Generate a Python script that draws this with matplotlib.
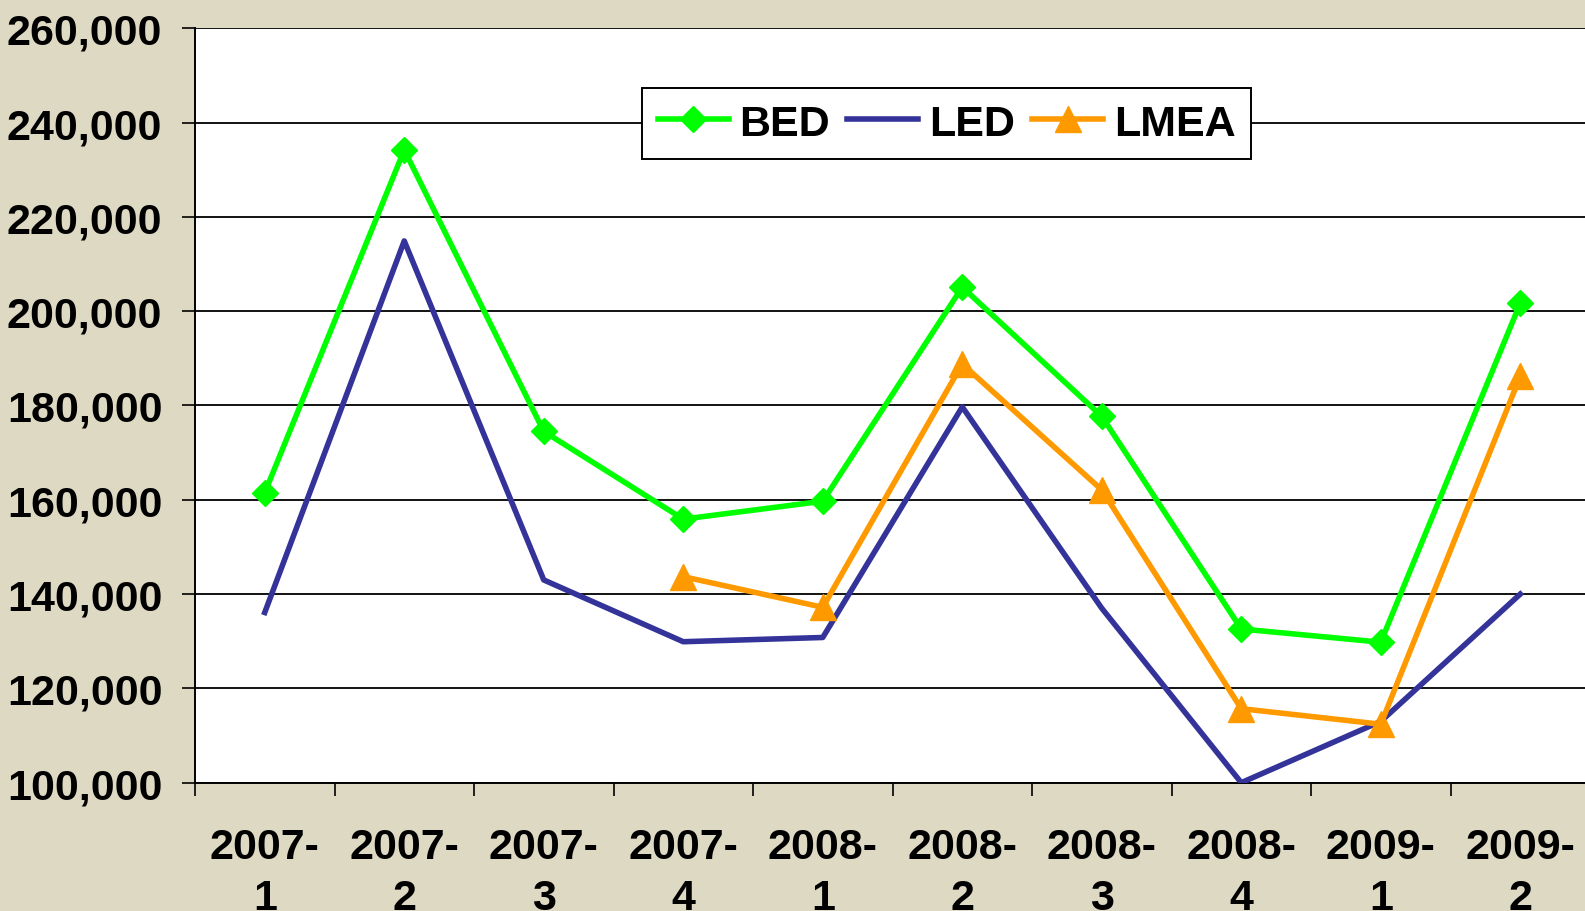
import numpy as np
import matplotlib
matplotlib.use('Agg')
import matplotlib.pyplot as plt

periods = ['2007-\n1', '2007-\n2', '2007-\n3', '2007-\n4', '2008-\n1',
           '2008-\n2', '2008-\n3', '2008-\n4', '2009-\n1', '2009-\n2']
bed = [161500, 234200, 174500, 155900, 159700, 205100, 177700, 132600, 129800, 201700]
led = [136100, 214900, 143000, 129900, 130800, 179700, 137000, 100000, 113000, 140000]
lmea = [np.nan, np.nan, np.nan, 143700, 137200, 188800, 162100, 115700, 112400, 186200]

BG = '#DDD9C3'
FS = 31
plt.rcParams['font.family'] = ['Liberation Sans', 'DejaVu Sans']
plt.rcParams['font.weight'] = 'bold'

fig = plt.figure(figsize=(15.85, 9.12), dpi=100, facecolor=BG)
ax = fig.add_axes([195 / 1585, 128.3 / 912, 1395 / 1585, 0.8272])
ax.set_facecolor('white')

x = np.arange(len(periods))
ax.plot(x, bed, color='#00FF00', lw=4.0, marker='D', ms=13, label='BED', zorder=4)
ax.plot(x, led, color='#333399', lw=4.0, label='LED', zorder=3)
ax.plot(x, lmea, color='#FF9900', lw=4.0, marker='^', ms=19, label='LMEA', zorder=5)

ax.set_xlim(-0.5, len(periods) - 0.5)
ax.set_ylim(100000, 260000)
ax.set_yticks(np.arange(100000, 260001, 20000))
ax.set_yticklabels(['{:,}'.format(v) for v in range(100000, 260001, 20000)])
ax.yaxis.grid(True, color='black', lw=1.3)
ax.set_axisbelow(True)

ax.set_xticks(np.arange(-0.5, len(periods), 1.0))
ax.set_xticklabels([])
ax.set_xticks(x, minor=True)
ax.set_xticklabels(periods, minor=True)
ax.tick_params(axis='x', which='major', length=9.5, width=1.2, direction='out')
ax.tick_params(axis='x', which='minor', length=0, pad=32, labelsize=FS)
ax.tick_params(axis='y', length=9.5, width=1.2, pad=14, labelsize=FS)
for lab in ax.get_xticklabels(minor=True):
    lab.set_linespacing(1.35)

for s in ['top', 'right']:
    ax.spines[s].set_visible(False)
for s in ['left', 'bottom']:
    ax.spines[s].set_linewidth(1.4)
    ax.spines[s].set_color('black')

leg = ax.legend(loc='upper left', bbox_to_anchor=(642 / 1585, 1 - 89 / 912),
                bbox_transform=fig.transFigure, ncol=3, fontsize=FS,
                frameon=True, fancybox=False, framealpha=1, edgecolor='black',
                handlelength=1.65, handletextpad=0.25, columnspacing=0.4,
                borderpad=0.36, borderaxespad=0)
leg.get_frame().set_linewidth(1.4)

fig.savefig('out.png', dpi=100, facecolor=BG)
